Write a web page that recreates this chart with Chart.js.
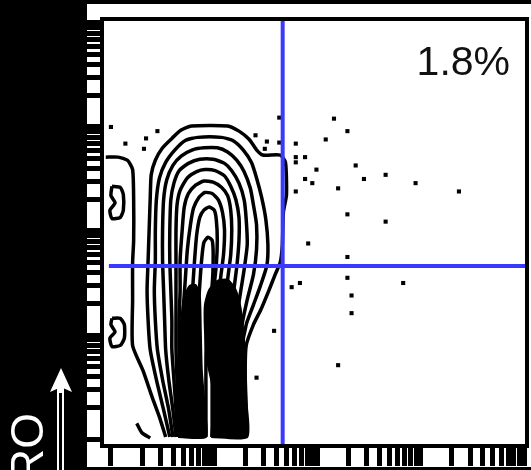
<!DOCTYPE html>
<html>
<head>
<meta charset="utf-8">
<script src="https://cdn.jsdelivr.net/npm/chart.js@4/dist/chart.umd.min.js"></script>
<style>
html, body { margin: 0; padding: 0; background: #000; }
canvas { display: block; }
</style>
</head>
<body>
<canvas id="c" width="531" height="470"></canvas>
<script>
// Both axes are in log10 decades of fluorescence intensity (10^0 .. 10^4).
const decades = [0, 1, 2, 3];
const decadeSteps = [1, 2, 3, 4, 5, 6, 7, 8, 9];
const topDecade = 4;

// Quadrant gate positions (decades) and the upper-right quadrant frequency.
const gateX = 1.663;
const gateY = 1.663;
const quadrantLabel = '1.8%';
const quadrantLabelPos = [3.865, 3.5];
const axisLabel = 'CD45RO';

// Contour levels, outermost first, as [x, y] in decades.
const contourLobe = [[-0.05,2.71],[0.07,2.71],[0.16,2.68],[0.21,2.59],[0.22,2.30],[0.22,1.91],[0.21,1.70],[0.21,1.34],[0.21,0.90],[0.31,0.66],[0.40,0.40],[0.47,0.21],[0.53,0.02]];
const contourHook = [[0.25,0.15],[0.30,0.06],[0.38,0.01]];
const contourIslandUpper = [[0.01,2.43],[0.09,2.42],[0.12,2.35],[0.12,2.20],[0.09,2.13],[0.01,2.12],[-0.01,2.20],[0.04,2.27],[0.00,2.34],[0.01,2.43]];
const contourIslandLower = [[0.01,1.16],[0.09,1.16],[0.13,1.10],[0.13,0.97],[0.09,0.90],[0.01,0.89],[-0.01,0.97],[0.04,1.03],[0.00,1.10],[0.01,1.16]];
const contour1 = [[0.57,0.02],[0.51,0.28],[0.44,0.57],[0.38,0.86],[0.36,1.14],[0.35,1.43],[0.36,1.72],[0.37,2.01],[0.38,2.30],[0.39,2.54],[0.43,2.68],[0.50,2.80],[0.59,2.89],[0.68,2.97],[0.78,3.01],[1.13,3.01],[1.24,2.96],[1.34,2.88],[1.41,2.78],[1.47,2.73],[1.64,2.73],[1.69,2.66],[1.70,2.35],[1.67,2.18],[1.66,1.87],[1.64,1.70],[1.59,1.58],[1.53,1.43],[1.45,1.24],[1.38,1.10],[1.31,0.90],[1.30,0.62],[1.31,0.28],[1.31,0.02]];
const contour2 = [[0.60,0.02],[0.56,0.28],[0.50,0.57],[0.45,0.86],[0.43,1.14],[0.42,1.43],[0.43,1.72],[0.43,2.01],[0.44,2.30],[0.47,2.51],[0.53,2.66],[0.62,2.78],[0.72,2.87],[0.84,2.90],[1.07,2.90],[1.18,2.87],[1.28,2.78],[1.36,2.66],[1.41,2.51],[1.46,2.32],[1.50,2.11],[1.52,1.87],[1.51,1.67],[1.45,1.48],[1.38,1.29],[1.31,1.10],[1.27,0.86],[1.27,0.47],[1.28,0.02]];
const contour3 = [[0.63,0.02],[0.60,0.28],[0.56,0.57],[0.53,0.86],[0.52,1.14],[0.51,1.43],[0.50,1.72],[0.50,2.01],[0.51,2.30],[0.54,2.49],[0.60,2.63],[0.68,2.72],[0.79,2.78],[0.90,2.80],[1.03,2.80],[1.13,2.76],[1.22,2.68],[1.29,2.57],[1.35,2.41],[1.38,2.25],[1.41,2.06],[1.41,1.82],[1.38,1.58],[1.32,1.34],[1.27,1.10],[1.24,0.81],[1.24,0.42],[1.25,0.02]];
const contour4 = [[0.64,0.02],[0.63,0.28],[0.61,0.57],[0.59,0.86],[0.59,1.14],[0.58,1.43],[0.57,1.72],[0.57,2.01],[0.58,2.30],[0.61,2.46],[0.66,2.58],[0.75,2.65],[0.86,2.69],[0.99,2.69],[1.10,2.65],[1.17,2.58],[1.24,2.46],[1.29,2.30],[1.31,2.11],[1.32,1.87],[1.29,1.63],[1.25,1.38],[1.21,1.10],[1.20,0.76],[1.20,0.38],[1.21,0.02]];
const contour5 = [[0.66,0.02],[0.65,0.28],[0.64,0.57],[0.63,0.86],[0.63,1.14],[0.63,1.43],[0.63,1.72],[0.63,2.01],[0.64,2.25],[0.67,2.39],[0.74,2.51],[0.83,2.57],[0.91,2.59],[1.01,2.58],[1.10,2.53],[1.16,2.43],[1.21,2.30],[1.24,2.13],[1.24,1.91],[1.22,1.67],[1.19,1.43],[1.16,1.14],[1.15,0.76],[1.15,0.38],[1.15,0.02]];
const contour6 = [[0.68,0.02],[0.67,0.28],[0.67,0.57],[0.66,0.86],[0.66,1.14],[0.67,1.43],[0.67,1.72],[0.69,2.01],[0.71,2.23],[0.75,2.36],[0.82,2.44],[0.90,2.48],[0.99,2.47],[1.07,2.42],[1.13,2.34],[1.16,2.20],[1.17,2.01],[1.16,1.77],[1.13,1.53],[1.11,1.24],[1.10,0.86],[1.10,0.42],[1.10,0.02]];
const contour7 = [[0.70,0.02],[0.69,0.33],[0.69,0.66],[0.69,0.95],[0.70,1.24],[0.72,1.53],[0.74,1.82],[0.77,2.06],[0.80,2.22],[0.85,2.32],[0.91,2.37],[0.98,2.36],[1.04,2.30],[1.08,2.18],[1.10,2.01],[1.09,1.77],[1.06,1.53],[1.04,1.24],[1.04,0.86],[1.04,0.42],[1.04,0.02]];
const contour8 = [[0.77,0.02],[0.76,0.38],[0.76,0.76],[0.77,1.14],[0.79,1.43],[0.81,1.72],[0.83,1.96],[0.86,2.13],[0.90,2.20],[0.95,2.23],[1.00,2.20],[1.02,2.11],[1.03,1.91],[1.02,1.67],[0.99,1.38],[0.98,0.95],[0.98,0.47],[0.98,0.02]];
const contour9 = [[0.84,0.02],[0.83,0.38],[0.83,0.76],[0.84,1.14],[0.86,1.48],[0.88,1.74],[0.90,1.89],[0.94,1.94],[0.98,1.91],[0.99,1.77],[0.98,1.48],[0.93,1.14],[0.92,0.76],[0.92,0.38],[0.92,0.02]];

// Highest-density levels, shaded solid.
const densityCoreLeft = [[0.65,0.02],[0.63,0.28],[0.64,0.57],[0.66,0.86],[0.68,1.14],[0.71,1.36],[0.76,1.47],[0.82,1.48],[0.86,1.38],[0.87,1.05],[0.88,0.66],[0.91,0.28],[0.92,0.02],[0.65,0.02]];
const densityCoreRight = [[0.97,0.02],[0.99,0.28],[0.98,0.52],[0.93,0.76],[0.91,1.05],[0.91,1.29],[0.95,1.43],[1.03,1.52],[1.13,1.53],[1.20,1.45],[1.25,1.29],[1.28,1.05],[1.30,0.76],[1.31,0.38],[1.32,0.02],[0.97,0.02]];

// Individual events outside the lowest contour level.
const outlierEvents = [
  [2.16,3.08],[2.29,2.96],[2.08,2.88],[1.79,2.84],[1.79,2.71],[1.79,2.66],[1.88,2.71],[2.37,2.63],
  [1.99,2.59],[1.88,2.50],[1.95,2.46],[2.45,2.50],[2.66,2.54],[2.95,2.46],[2.20,2.41],[1.79,2.38],
  [3.37,2.38],[2.29,2.16],[2.66,2.09],[1.91,1.88],[2.29,1.75],[1.75,1.46],[1.83,1.50],[2.29,1.55],
  [2.83,1.50],[2.33,1.38],[2.33,1.21],[2.20,0.71],[1.58,1.04],[1.41,0.59],
  [0.00,3.00],[0.45,2.96],[0.34,2.89],[0.14,2.84],[0.32,2.79],[1.40,2.92],[1.63,3.09],[1.51,2.86],
  [1.63,2.85],[1.49,2.79]
];

const tickValues = [];
decades.forEach(d => decadeSteps.forEach(k => tickValues.push(d + Math.log10(k))));
tickValues.push(topDecade);

const pts = arr => arr.map(([x, y]) => ({ x, y }));

const contourSets = [contourLobe, contourHook, contourIslandUpper, contourIslandLower, contour1, contour2,
  contour3, contour4, contour5, contour6, contour7, contour8, contour9];

const datasets = contourSets.map(c => ({
  data: pts(c),
  showLine: true,
  borderColor: '#000',
  borderWidth: 3.5,
  pointRadius: 0,
  tension: 0.2,
  order: 3
}));

[densityCoreLeft, densityCoreRight].forEach(c => datasets.push({
  data: pts(c),
  showLine: true,
  fill: 'shape',
  backgroundColor: '#000',
  borderColor: '#000',
  borderWidth: 2,
  pointRadius: 0,
  tension: 0.2,
  order: 4
}));

datasets.push({
  data: pts(outlierEvents),
  showLine: false,
  pointStyle: 'rect',
  pointRadius: 2.9,
  borderWidth: 0,
  backgroundColor: '#000',
  order: 2
});

const gateColor = '#3a3aff';
datasets.push({
  data: [{ x: gateX, y: -0.1 }, { x: gateX, y: 4.1 }],
  showLine: true, borderColor: gateColor, borderWidth: 4, pointRadius: 0, order: 1
});
datasets.push({
  data: [{ x: -0.02, y: gateY }, { x: 4.1, y: gateY }],
  showLine: true, borderColor: gateColor, borderWidth: 4, pointRadius: 0, order: 1
});

const setTicks = scale => { scale.ticks = tickValues.map(v => ({ value: v })); };

const framePlugin = {
  id: 'frame',
  beforeDraw(chart) {
    const { ctx, chartArea: a } = chart;
    ctx.save();
    ctx.fillStyle = '#000';
    ctx.fillRect(0, 0, chart.width, chart.height);
    ctx.fillStyle = '#fff';
    ctx.fillRect(a.left - 15, 4, chart.width - (a.left - 15), a.bottom + 21 - 4);
    ctx.restore();
  },
  afterDraw(chart) {
    const { ctx, chartArea: a, scales } = chart;
    ctx.save();
    ctx.strokeStyle = '#000';
    ctx.lineWidth = 4;
    ctx.strokeRect(a.left, a.top, a.right - a.left, a.bottom - a.top);

    ctx.fillStyle = '#111';
    ctx.font = '41px "Liberation Sans", Arial, sans-serif';
    ctx.textAlign = 'right';
    ctx.textBaseline = 'alphabetic';
    ctx.fillText(quadrantLabel,
      scales.x.getPixelForValue(quadrantLabelPos[0]),
      scales.y.getPixelForValue(quadrantLabelPos[1]));

    // vertical axis title with an upward arrow
    ctx.fillStyle = '#fff';
    ctx.save();
    ctx.translate(43, 413);
    ctx.rotate(-Math.PI / 2);
    ctx.font = '46px "Liberation Sans", Arial, sans-serif';
    ctx.textAlign = 'right';
    ctx.fillText(axisLabel, 0, 0);
    ctx.restore();

    ctx.beginPath();
    ctx.moveTo(61, 368);
    ctx.lineTo(72, 392);
    ctx.lineTo(63, 388);
    ctx.lineTo(59, 388);
    ctx.lineTo(50, 392);
    ctx.closePath();
    ctx.fill();
    ctx.fillRect(57, 387, 7, chart.height - 387);
    ctx.fillStyle = '#000';
    ctx.fillRect(59, 393, 3, chart.height - 393);
    ctx.restore();
  }
};

new Chart(document.getElementById('c'), {
  type: 'scatter',
  data: { datasets },
  options: {
    responsive: false,
    animation: false,
    devicePixelRatio: 1,
    layout: { padding: { left: 87, top: 19, right: 1, bottom: 4 } },
    plugins: { legend: { display: false }, tooltip: { enabled: false } },
    scales: {
      x: {
        type: 'linear', position: 'bottom', min: -0.0865, max: 4.029,
        afterBuildTicks: setTicks,
        ticks: { display: false },
        border: { display: false },
        grid: { drawOnChartArea: false, drawTicks: true, tickLength: 20, lineWidth: 5, tickWidth: 5, tickColor: '#000' }
      },
      y: {
        type: 'linear', position: 'left', min: -0.067, max: 4.038,
        afterBuildTicks: setTicks,
        ticks: { display: false },
        border: { display: false },
        grid: { drawOnChartArea: false, drawTicks: true, tickLength: 15, lineWidth: 5, tickWidth: 5, tickColor: '#000' }
      }
    }
  },
  plugins: [framePlugin]
});
</script>
</body>
</html>
